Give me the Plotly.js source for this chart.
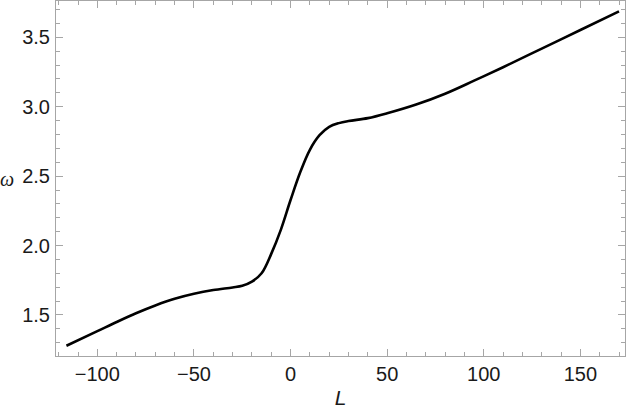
<!DOCTYPE html>
<html>
<head>
<meta charset="utf-8">
<script src="https://cdn.plot.ly/plotly-3.0.1.min.js"></script>
<style>
  html, body { margin: 0; padding: 0; background: #fff; }
  #chart { width: 633px; height: 411px; }
</style>
</head>
<body>
<div id="chart"></div>
<script>
// ---- Datos ----
const L = [-116, -100, -90, -80, -70, -60, -50, -40, -30, -25, -20, -15, -10, -5, 0, 5, 10, 15, 20, 25, 30, 40, 50, 65, 80, 95, 110, 130, 150, 170];
const omega = [1.278, 1.383, 1.449, 1.512, 1.568, 1.616, 1.652, 1.679, 1.698, 1.710, 1.740, 1.800, 1.940, 2.115, 2.328, 2.528, 2.690, 2.795, 2.855, 2.882, 2.897, 2.918, 2.953, 3.016, 3.094, 3.188, 3.285, 3.419, 3.553, 3.687];
const xTicks = [-100, -50, 0, 50, 100, 150];
const yTicks = [1.5, 2.0, 2.5, 3.0, 3.5];

const frameColor = '#a6a6a6';
const textColor = '#1a1a1a';
const tickFont = { family: 'Liberation Sans, Arial, sans-serif', size: 20, color: textColor };

function frameAxis(range, ticks, minorStep, fmt) {
  return {
    range: range,
    tickmode: 'array',
    tickvals: ticks,
    ticktext: ticks.map(fmt),
    ticks: 'inside',
    ticklen: 7,
    tickwidth: 1,
    tickcolor: frameColor,
    minor: { ticks: 'inside', tick0: 0, dtick: minorStep, ticklen: 4, tickwidth: 1, tickcolor: frameColor, showgrid: false },
    showline: true,
    linecolor: frameColor,
    linewidth: 1,
    mirror: 'allticks',
    showgrid: false,
    zeroline: false,
    tickfont: tickFont,
    fixedrange: true
  };
}

const trace = {
  x: L,
  y: omega,
  type: 'scatter',
  mode: 'lines',
  line: { color: '#000', width: 2.6, shape: 'spline', smoothing: 1 },
  hoverinfo: 'x+y'
};

const xaxis = frameAxis([-121.4, 173.1], xTicks, 10, v => (v < 0 ? '\u2212' + Math.abs(v) : String(v)));
xaxis.ticklabelstandoff = 0;
xaxis.title = { text: 'L', font: { family: 'Liberation Sans, Arial, sans-serif', size: 21, color: textColor, style: 'italic' }, standoff: 6 };

const yaxis = frameAxis([1.204, 3.762], yTicks, 0.1, v => v.toFixed(1));
yaxis.ticklabelstandoff = 1;

const layout = {
  width: 633,
  height: 411,
  margin: { l: 56, r: 8, t: 1, b: 55 },
  paper_bgcolor: '#fff',
  plot_bgcolor: '#fff',
  showlegend: false,
  xaxis: xaxis,
  yaxis: yaxis,
  annotations: [{
    text: 'ω',
    xref: 'paper', yref: 'paper',
    x: 0, y: 0.5,
    xshift: -49,
    xanchor: 'center', yanchor: 'middle',
    showarrow: false,
    font: { family: 'Liberation Serif, serif', size: 20, color: textColor, style: 'italic' }
  }]
};

Plotly.newPlot('chart', [trace], layout, { displayModeBar: false, staticPlot: true });
</script>
</body>
</html>
